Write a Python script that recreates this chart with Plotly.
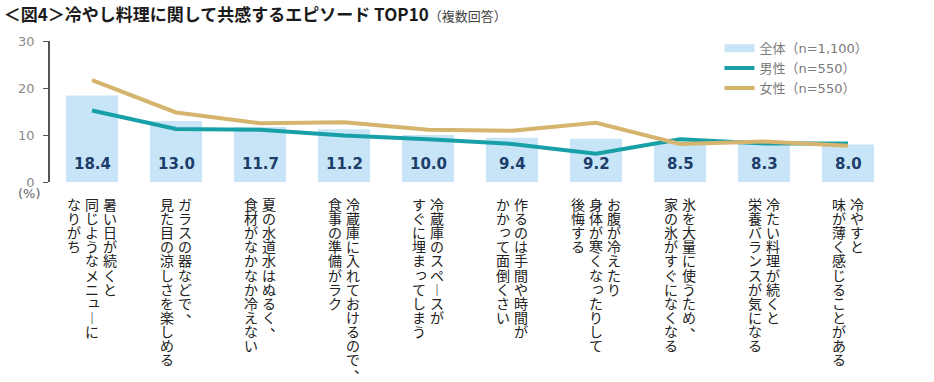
import plotly.graph_objects as go

categories = [
    ["暑い日が続くと", "同じようなメニューに", "なりがち"],
    ["ガラスの器などで、", "見た目の涼しさを楽しめる"],
    ["夏の水道水はぬるく、", "食材がなかなか冷えない"],
    ["冷蔵庫に入れておけるので、", "食事の準備がラク"],
    ["冷蔵庫のスペースが", "すぐに埋まってしまう"],
    ["作るのは手間や時間が", "かかって面倒くさい"],
    ["お腹が冷えたり", "身体が寒くなったりして", "後悔する"],
    ["氷を大量に使うため、", "家の氷がすぐになくなる"],
    ["冷たい料理が続くと", "栄養バランスが気になる"],
    ["冷やすと", "味が薄く感じることがある"],
]
total = [18.4, 13.0, 11.7, 11.2, 10.0, 9.4, 9.2, 8.5, 8.3, 8.0]
male = [15.2, 11.3, 11.1, 9.9, 9.1, 8.1, 6.0, 9.1, 8.2, 8.2]
female = [21.7, 14.8, 12.5, 12.7, 11.1, 10.9, 12.6, 8.1, 8.6, 7.7]
series_names = ["全体（n=1,100）", "男性（n=550）", "女性（n=550）"]
y_ticks = [0, 10, 20, 30]

BAR_C = "#c8e5f7"
MALE_C = "#18a0a8"
FEMALE_C = "#d5b46d"
LABEL_C = "#1d3d6b"
CJK = "Noto Sans CJK JP"
LAT = "DejaVu Sans, Noto Sans CJK JP"

x = list(range(len(total)))

fig = go.Figure()
fig.add_trace(go.Bar(x=x, y=total, marker=dict(color=BAR_C, line=dict(width=0)),
                     width=0.62, showlegend=False, name=series_names[0]))
# legend proxy for the bar series (wide swatch)
fig.add_trace(go.Scatter(x=[None], y=[None], mode="lines", name=series_names[0],
                         line=dict(color=BAR_C, width=8)))
fig.add_trace(go.Scatter(x=x, y=male, mode="lines", name=series_names[1],
                         line=dict(color=MALE_C, width=4)))
fig.add_trace(go.Scatter(x=x, y=female, mode="lines", name=series_names[2],
                         line=dict(color=FEMALE_C, width=4)))

ann = []
# value labels inside bars
for xi, v in zip(x, total):
    ann.append(dict(x=xi, y=0, xref="x", yref="y", text=f"<b>{v:.1f}</b>",
                    showarrow=False, yanchor="middle", yshift=18,
                    font=dict(family=LAT, size=15, color=LABEL_C)))

# vertical category labels (columns read right-to-left)
VERT = {"ー": "︱"}
SMALL = set("ぁぃぅぇぉっゃゅょゎァィゥェォッャュョヮ")
COL_PITCH = 18
ROW_PITCH = 14.1
for xi, cols in zip(x, categories):
    n = len(cols)
    for j, col in enumerate(cols):
        xs = ((n - 1) / 2 - j) * COL_PITCH
        for i, ch in enumerate(col):
            dx, dy = 0, 0
            if ch in SMALL:
                dx, dy = 2, 2
            if ch in "、。":
                dx, dy = 8, 6
            ann.append(dict(x=xi, y=0, xref="x", yref="paper",
                            text=VERT.get(ch, ch), showarrow=False,
                            xanchor="center", yanchor="middle",
                            xshift=xs + dx, yshift=-(22 + i * ROW_PITCH) + dy,
                            font=dict(family=CJK, size=14, color="#222222")))

ann.append(dict(x=-0.024, y=0, xref="paper", yref="paper", text="(%)",
                showarrow=False, xanchor="center", yanchor="middle", yshift=-11,
                font=dict(family=LAT, size=13, color="#666666")))

fig.update_layout(
    width=934, height=382,
    margin=dict(l=50, r=44, t=41, b=200),
    paper_bgcolor="white", plot_bgcolor="white",
    title=dict(
        text="<b>＜図4＞冷やし料理に関して共感するエピソード TOP10</b>"
             "<span style='font-size:13px;color:#444444'>（複数回答）</span>",
        x=0.004, xref="container", xanchor="left",
        y=1 - 15 / 382, yref="container", yanchor="middle",
        font=dict(family=CJK, size=17, color="#1a1a1a")),
    xaxis=dict(range=[-0.5, len(total) - 0.5], showticklabels=False,
               showline=False, showgrid=False, zeroline=False, ticks=""),
    yaxis=dict(range=[0, 30], tickvals=y_ticks, showline=True, linecolor="#555555",
               linewidth=1.5, ticks="outside", ticklen=5, tickcolor="#555555",
               showgrid=False, zeroline=False, ticklabelstandoff=6,
               tickfont=dict(family=LAT, size=13, color="#8a8a8a")),
    legend=dict(x=0.797, y=1.055, xanchor="left", yanchor="top",
                bgcolor="rgba(0,0,0,0)", tracegroupgap=0,
                font=dict(family=LAT, size=13, color="#7a7a7a")),
    annotations=ann,
    bargap=0.38,
)

fig.write_html("out.html")
